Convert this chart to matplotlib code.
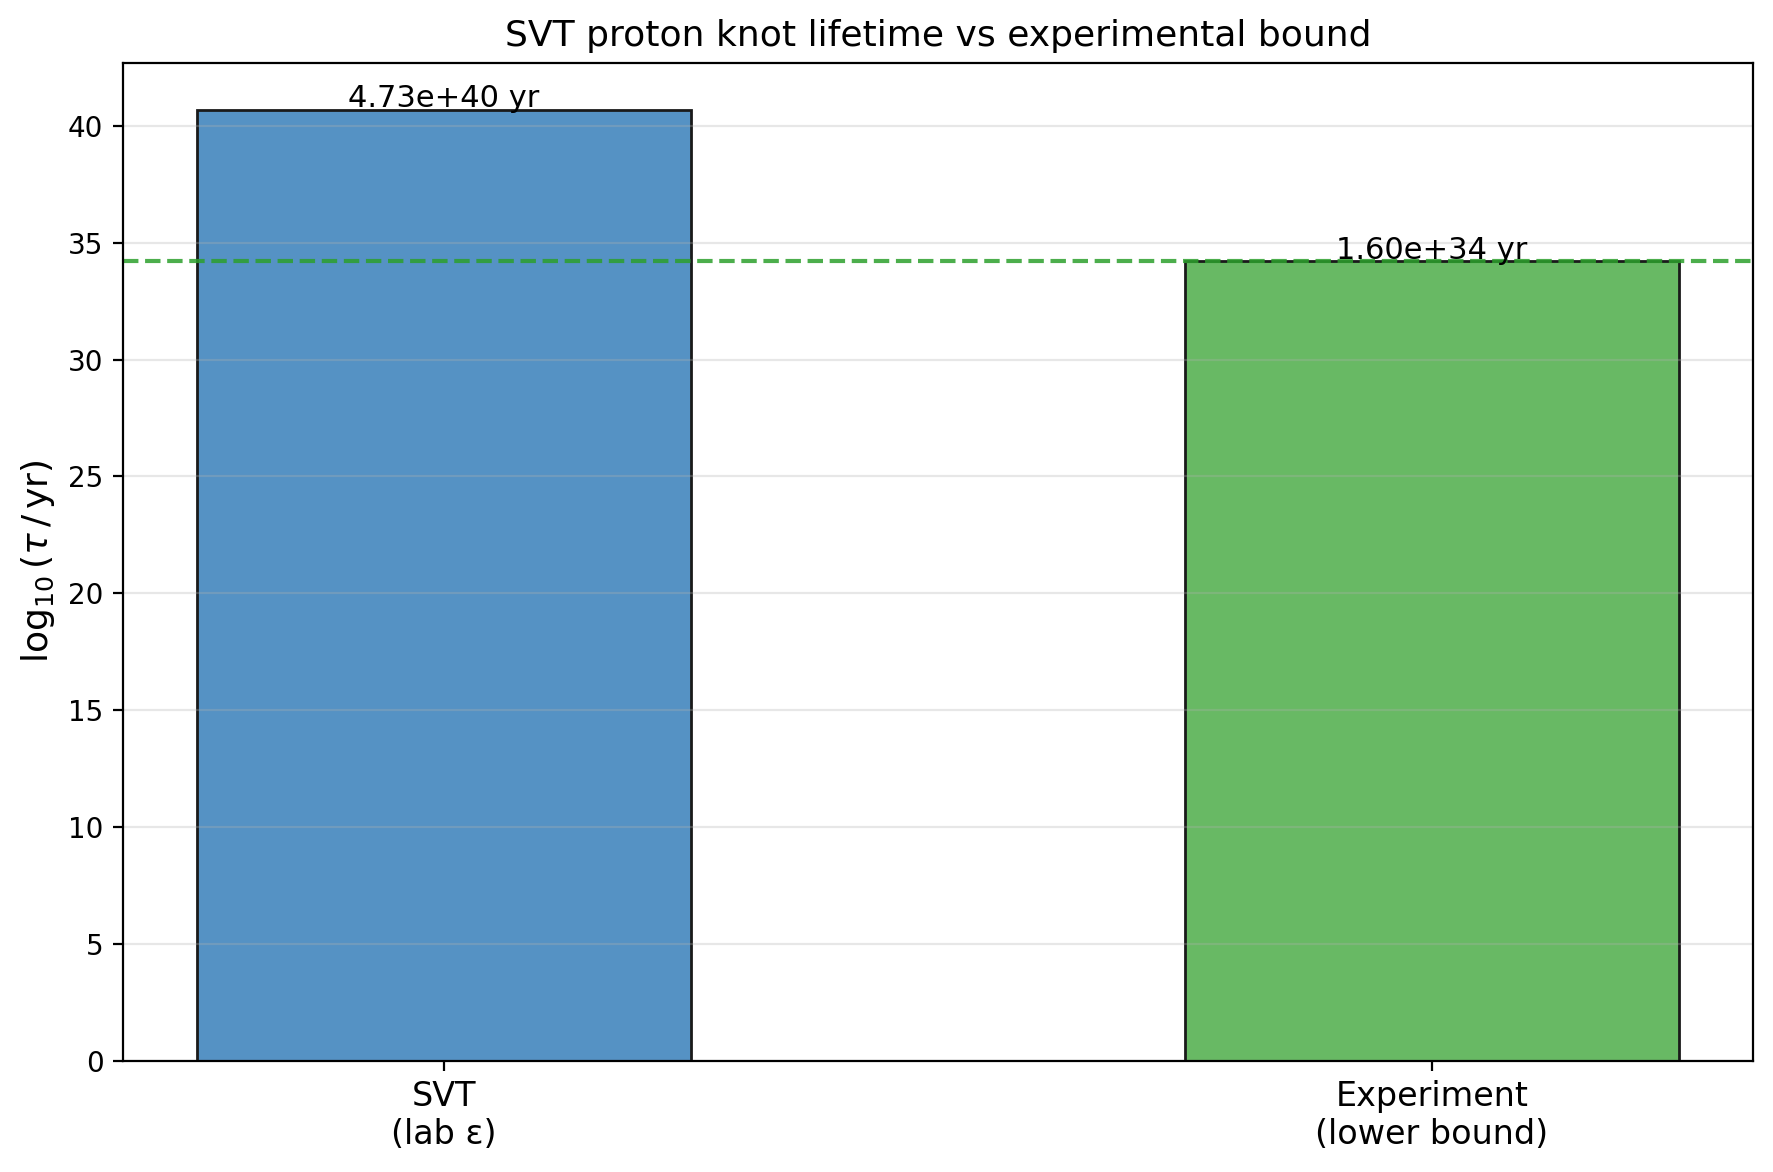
import numpy as np
import matplotlib
matplotlib.use('Agg')
import matplotlib.pyplot as plt

# lifetimes in years
labels = ['SVT\n(lab ε)', 'Experiment\n(lower bound)']
lifetimes = [4.73e40, 1.60e34]
bound = 1.60e34
colors = ['#5592c4', '#68b964']

log_vals = np.log10(lifetimes)
x = np.arange(len(labels))

fig, ax = plt.subplots(figsize=(8.87, 5.86), dpi=200)
fig.subplots_adjust(left=0.0693, right=0.9882, top=0.9465, bottom=0.095)

ax.bar(x, log_vals, width=0.5, color=colors, edgecolor='#1a1a1a', linewidth=1.0)
ax.axhline(np.log10(bound), color='tab:green', linestyle='--', linewidth=1.5, alpha=0.85)

for xi, v, t in zip(x, log_vals, lifetimes):
    ax.text(xi, v + 0.12, f'{t:.2e} yr', ha='center', va='baseline', fontsize=11)

ax.set_xticks(x)
ax.set_xticklabels(labels, fontsize=12)
ax.set_ylabel(r'$\log_{10}(\tau\,/\,\mathrm{yr})$', fontsize=13)
ax.set_title('SVT proton knot lifetime vs experimental bound', fontsize=13)
ax.grid(axis='y', alpha=0.3)

fig.savefig('out.png', dpi=200)
